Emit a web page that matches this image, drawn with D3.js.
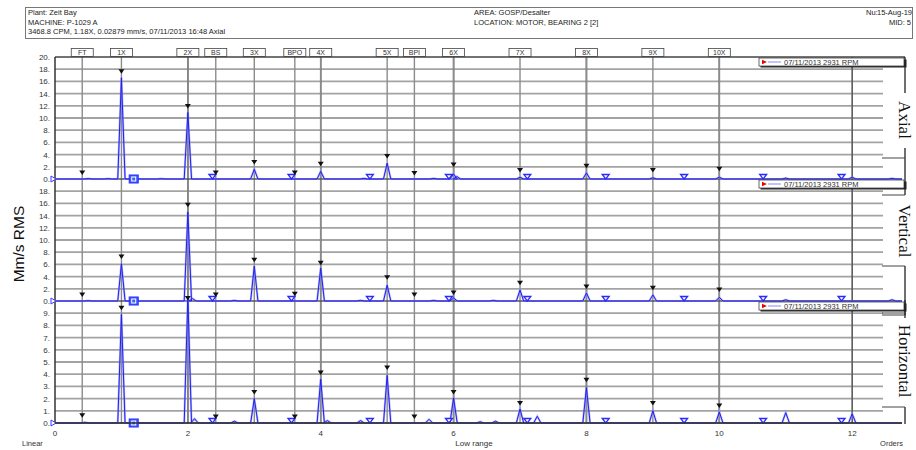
<!DOCTYPE html>
<html>
<head>
<meta charset="utf-8">
<script src="https://cdn.jsdelivr.net/npm/d3@7"></script>
<style>
    body { margin: 0; background: #fff; }
    text { font-family: "Liberation Sans", Arial, sans-serif; }
</style>
</head>
<body>
<svg id="chart" width="916" height="450"></svg>
<script>
// Fault frequency labels (orders)
const faultNames = ["FT", "1X", "2X", "BS", "3X", "BPO", "4X", "5X", "BPI", "6X", "7X", "8X", "9X", "10X"];
const faultOrders = [0.41, 1, 2, 2.42, 3, 3.61, 4, 5, 5.41, 6, 7, 8, 9, 10];

// Black marker amplitudes at each fault frequency, per direction
const axialMarks = [1.0, 17.6, 11.9, 1.0, 2.7, 1.0, 2.4, 3.7, 0.9, 2.3, 1.4, 2.1, 1.4, 1.6];
const verticalMarks = [1.0, 7.2, 15.7, 1.0, 6.7, 1.1, 6.2, 3.8, 1.0, 1.3, 2.9, 2.3, 2.1, 1.8];
const horizontalMarks = [0.6, 9.4, 10.2, 0.5, 2.5, 0.5, 4.1, 4.5, 0.5, 2.5, 1.6, 3.5, 1.6, 1.4];

// Spectrum peaks [order, mm/s]
const axialPeaks = [[0.5, 0.08], [0.8, 0.06], [1.0, 16.6], [1.6, 0.05], [2.0, 10.9], [3.0, 1.6], [4.0, 1.25],
    [4.65, 0.1], [5.0, 2.6], [5.7, 0.1], [6.0, 0.8], [6.05, 0.4], [7.0, 0.3], [8.0, 1.0], [9.0, 0.2],
    [10.0, 0.3], [11.0, 0.15], [12.0, 0.3], [12.6, 0.1]];
const verticalPeaks = [[0.5, 0.05], [1.0, 6.1], [2.0, 14.6], [2.07, 0.4], [2.7, 0.1], [3.0, 5.7], [4.0, 5.4],
    [4.6, 0.1], [5.0, 2.6], [5.7, 0.1], [6.0, 0.5], [6.6, 0.1], [7.0, 1.8], [8.0, 1.3], [9.0, 1.0],
    [10.0, 0.6], [11.0, 0.2], [12.6, 0.2]];
const horizontalPeaks = [[0.45, 0.06], [1.0, 8.9], [2.0, 10.4], [2.1, 0.35], [2.7, 0.15], [3.0, 2.0],
    [4.0, 3.6], [4.1, 0.2], [4.6, 0.2], [5.0, 3.9], [5.63, 0.3], [6.0, 2.05], [6.4, 0.1], [6.63, 0.15],
    [7.0, 1.15], [7.26, 0.55], [8.0, 2.9], [9.0, 1.0], [10.0, 0.9], [11.0, 0.85], [12.0, 0.75]];

// Harmonic cursor (square) and its harmonics (hollow triangles)
const cursorOrder = 1.185;
const harmonicOrders = [2.37, 3.56, 4.74, 5.93, 7.11, 8.29, 9.47, 10.66, 11.84];

const xTicks = [0, 2, 4, 6, 8, 10, 12];
const legendText = "07/11/2013 2931 RPM";

const panels = [
    { name: "Axial", max: 20, step: 2, top: 57, bottom: 179, peaks: axialPeaks, marks: axialMarks },
    { name: "Vertical", max: 20, step: 2, top: 179, bottom: 301, peaks: verticalPeaks, marks: verticalMarks },
    { name: "Horizontal", max: 10, step: 1, top: 301, bottom: 423, peaks: horizontalPeaks, marks: horizontalMarks }
];

const svg = d3.select("#chart");
const left = 55, right = 902, gridEnd = 883;

let x = d3.scaleLinear().domain([0, 12.75]).range([left, right]);

// Header box
svg.append("rect")
    .attr("x", 25.5).attr("y", 7.5).attr("width", 887).attr("height", 31)
    .attr("fill", "none").attr("stroke", "#777");

let header = svg.append("g").attr("font-size", 7.5).attr("fill", "#222");
header.append("text").attr("x", 28).attr("y", 15).text("Plant: Zeit Bay");
header.append("text").attr("x", 28).attr("y", 25).text("MACHINE: P-1029 A");
header.append("text").attr("x", 28).attr("y", 34).text("3468.8 CPM, 1.18X, 0.02879 mm/s, 07/11/2013 16:48  Axial");
header.append("text").attr("x", 474).attr("y", 15).text("AREA: GOSP/Desalter");
header.append("text").attr("x", 474).attr("y", 25).text("LOCATION: MOTOR, BEARING 2 [2]");
// two header fields overlap in the original
header.append("text").attr("x", 866).attr("y", 15).text("Nu:");
header.append("text").attr("x", 912).attr("y", 15).attr("text-anchor", "end").text("15-Aug-19");
header.append("text").attr("x", 911).attr("y", 25).attr("text-anchor", "end").text("MID: 5");

// Panels: grid lines and tick labels
panels.forEach((p) => {
    p.y = d3.scaleLinear().domain([0, p.max]).range([p.bottom, p.top]);
    let ticks = d3.range(p.step, p.max, p.step);

    svg.append("g")
        .selectAll("line")
        .data(ticks)
        .enter()
        .append("line")
        .attr("x1", left).attr("x2", gridEnd)
        .attr("y1", (d) => p.y(d)).attr("y2", (d) => p.y(d))
        .attr("stroke", "#a3a3a3")
        .attr("stroke-width", 1.8);

    let labels = p.name === "Axial" ? ticks.concat([0, p.max]) : ticks.concat([0]);
    svg.append("g")
        .attr("font-size", 8)
        .attr("fill", "#333")
        .attr("text-anchor", "end")
        .selectAll("text")
        .data(labels)
        .enter()
        .append("text")
        .attr("x", 50)
        .attr("y", (d) => p.y(d) + 3)
        .text((d) => d + ".");
});

// Vertical grid at even orders
svg.append("g")
    .selectAll("line")
    .data(xTicks.slice(1))
    .enter()
    .append("line")
    .attr("x1", (d) => x(d)).attr("x2", (d) => x(d))
    .attr("y1", 57).attr("y2", 423)
    .attr("stroke", "#5c5c5c")
    .attr("stroke-width", 1.6);

// Fault frequency lines
svg.append("g")
    .selectAll("line")
    .data(faultOrders)
    .enter()
    .append("line")
    .attr("x1", (d) => x(d)).attr("x2", (d) => x(d))
    .attr("y1", 56).attr("y2", 423)
    .attr("stroke", "#8c8c8c")
    .attr("stroke-width", 1.4);

// Fault label boxes
let faultLabels = svg.append("g")
    .selectAll("g")
    .data(faultNames)
    .enter()
    .append("g")
    .attr("transform", (d, i) => "translate(" + x(faultOrders[i]) + ",48)");

faultLabels.append("rect")
    .attr("x", -11)
    .attr("y", 0.5)
    .attr("width", 22)
    .attr("height", 8)
    .attr("fill", "#fff")
    .attr("stroke", "#444")
    .attr("stroke-width", 0.8);

faultLabels.append("text")
    .attr("y", 7)
    .attr("text-anchor", "middle")
    .attr("font-size", 7)
    .attr("fill", "#333")
    .text((d) => d);

// Frame: top and left
svg.append("line").attr("x1", left).attr("x2", 905).attr("y1", 57).attr("y2", 57)
    .attr("stroke", "#444").attr("stroke-width", 1.5);
svg.append("line").attr("x1", left).attr("x2", left).attr("y1", 57).attr("y2", 424)
    .attr("stroke", "#333").attr("stroke-width", 1.5);

let line = d3.line();

panels.forEach((p) => {
    // zero line
    svg.append("line")
        .attr("x1", left).attr("x2", right)
        .attr("y1", p.y(0)).attr("y2", p.y(0))
        .attr("stroke", "#555")
        .attr("stroke-width", 1.5);

    // spectrum as narrow spikes
    let pts = [[x(0), p.y(0)]];
    p.peaks.forEach(([o, a]) => {
        pts.push([x(o - 0.055), p.y(0)], [x(o), p.y(a)], [x(o + 0.055), p.y(0)]);
    });
    pts.push([x(12.75), p.y(0)]);

    svg.append("path")
        .attr("d", line(pts))
        .attr("fill", "none")
        .attr("stroke", "#8a8aff")
        .attr("stroke-width", 2.2)
        .attr("stroke-opacity", 0.6);
    svg.append("path")
        .attr("d", line(pts))
        .attr("fill", "none")
        .attr("stroke", "#2020ee")
        .attr("stroke-width", 1);

    // hollow harmonic triangles on the baseline
    svg.append("g")
        .selectAll("path")
        .data(harmonicOrders)
        .enter()
        .append("path")
        .attr("d", (d) => {
            let cx = x(d), cy = p.y(0);
            return `M${cx - 3.5},${cy - 4.5}L${cx + 3.5},${cy - 4.5}L${cx},${cy}Z`;
        })
        .attr("fill", "#fff")
        .attr("stroke", "#2a2aff")
        .attr("stroke-width", 1.3);

    // cursor square
    let cxs = x(cursorOrder), cys = p.y(0);
    svg.append("rect")
        .attr("x", cxs - 4.5).attr("y", cys - 4).attr("width", 9).attr("height", 8)
        .attr("fill", "#3f5cff").attr("stroke", "#2a2aff");
    svg.append("rect")
        .attr("x", cxs - 2).attr("y", cys - 2).attr("width", 4).attr("height", 4)
        .attr("fill", "none").attr("stroke", "#fff").attr("stroke-width", 1);

    // zero-end marker on the axis
    svg.append("path")
        .attr("d", `M${left - 4},${p.y(0) - 3}L${left + 1},${p.y(0)}L${left - 4},${p.y(0) + 3}Z`)
        .attr("fill", "#fff").attr("stroke", "#3a3aff").attr("stroke-width", 1);

    // black markers at fault frequencies
    svg.append("g")
        .selectAll("path")
        .data(p.marks)
        .enter()
        .append("path")
        .attr("d", (d, i) => {
            let cx = x(faultOrders[i]), cy = p.y(d);
            return `M${cx - 3},${cy - 2.5}L${cx + 3},${cy - 2.5}L${cx},${cy + 2}Z`;
        })
        .attr("fill", "#111");

    // legend box
    let lg = svg.append("g").attr("transform", "translate(759," + (p.top + 1) + ")");
    lg.append("rect").attr("x", 1.5).attr("y", 1.5).attr("width", 146).attr("height", 8).attr("fill", "#222");
    lg.append("rect").attr("x", 0).attr("y", 0).attr("width", 145).attr("height", 8)
        .attr("fill", "#fff").attr("stroke", "#444").attr("stroke-width", 0.8);
    lg.append("path").attr("d", "M3,1.8L8,4L3,6.2Z").attr("fill", "#e00");
    lg.append("line").attr("x1", 9).attr("x2", 22).attr("y1", 4).attr("y2", 4)
        .attr("stroke", "#9a9aff").attr("stroke-width", 1.2);
    lg.append("text").attr("x", 25).attr("y", 7).attr("font-size", 7.5).attr("fill", "#333").text(legendText);
});

// Direction labels and brackets on the right
const brackets = [
    { label: "Axial", cy: 120, segs: [[57, 93], [148, 195]], ticks: [158, 195] },
    { label: "Vertical", cy: 231, segs: [[266, 315]], ticks: [266, 315] },
    { label: "Horizontal", cy: 361, segs: [[300, 318], [407, 424]], ticks: [313, 407] }
];
brackets.forEach((b) => {
    b.segs.forEach(([y1, y2]) => {
        svg.append("line").attr("x1", 905).attr("x2", 905).attr("y1", y1).attr("y2", y2)
            .attr("stroke", "#222").attr("stroke-width", 1.3);
    });
    b.ticks.forEach((t) => {
        svg.append("line").attr("x1", 882).attr("x2", 905).attr("y1", t).attr("y2", t)
            .attr("stroke", "#444").attr("stroke-width", 1);
    });
    svg.append("text")
        .attr("transform", "translate(899," + b.cy + ") rotate(90)")
        .attr("text-anchor", "middle")
        .attr("font-size", 17)
        .style("font-family", "'Liberation Serif', 'Times New Roman', serif")
        .attr("fill", "#111")
        .text(b.label);
});

// x axis
svg.append("line").attr("x1", left).attr("x2", right).attr("y1", 423).attr("y2", 423)
    .attr("stroke", "#333").attr("stroke-width", 1.5);
svg.append("g")
    .attr("font-size", 8).attr("fill", "#333").attr("text-anchor", "middle")
    .selectAll("text")
    .data(xTicks)
    .enter()
    .append("text")
    .attr("x", (d) => x(d))
    .attr("y", 436)
    .text((d) => d);

svg.append("text").attr("x", 22).attr("y", 446).attr("font-size", 7.5).attr("fill", "#333").text("Linear");
svg.append("text").attr("x", 474).attr("y", 446).attr("font-size", 8).attr("fill", "#333")
    .attr("text-anchor", "middle").text("Low range");
svg.append("text").attr("x", 903).attr("y", 446).attr("font-size", 7.5).attr("fill", "#333")
    .attr("text-anchor", "end").text("Orders");

// y axis title
svg.append("text")
    .attr("transform", "translate(24,244) rotate(-90)")
    .attr("text-anchor", "middle")
    .attr("font-size", 15.5)
    .attr("fill", "#111")
    .text("Mm/s RMS");
</script>
</body>
</html>
